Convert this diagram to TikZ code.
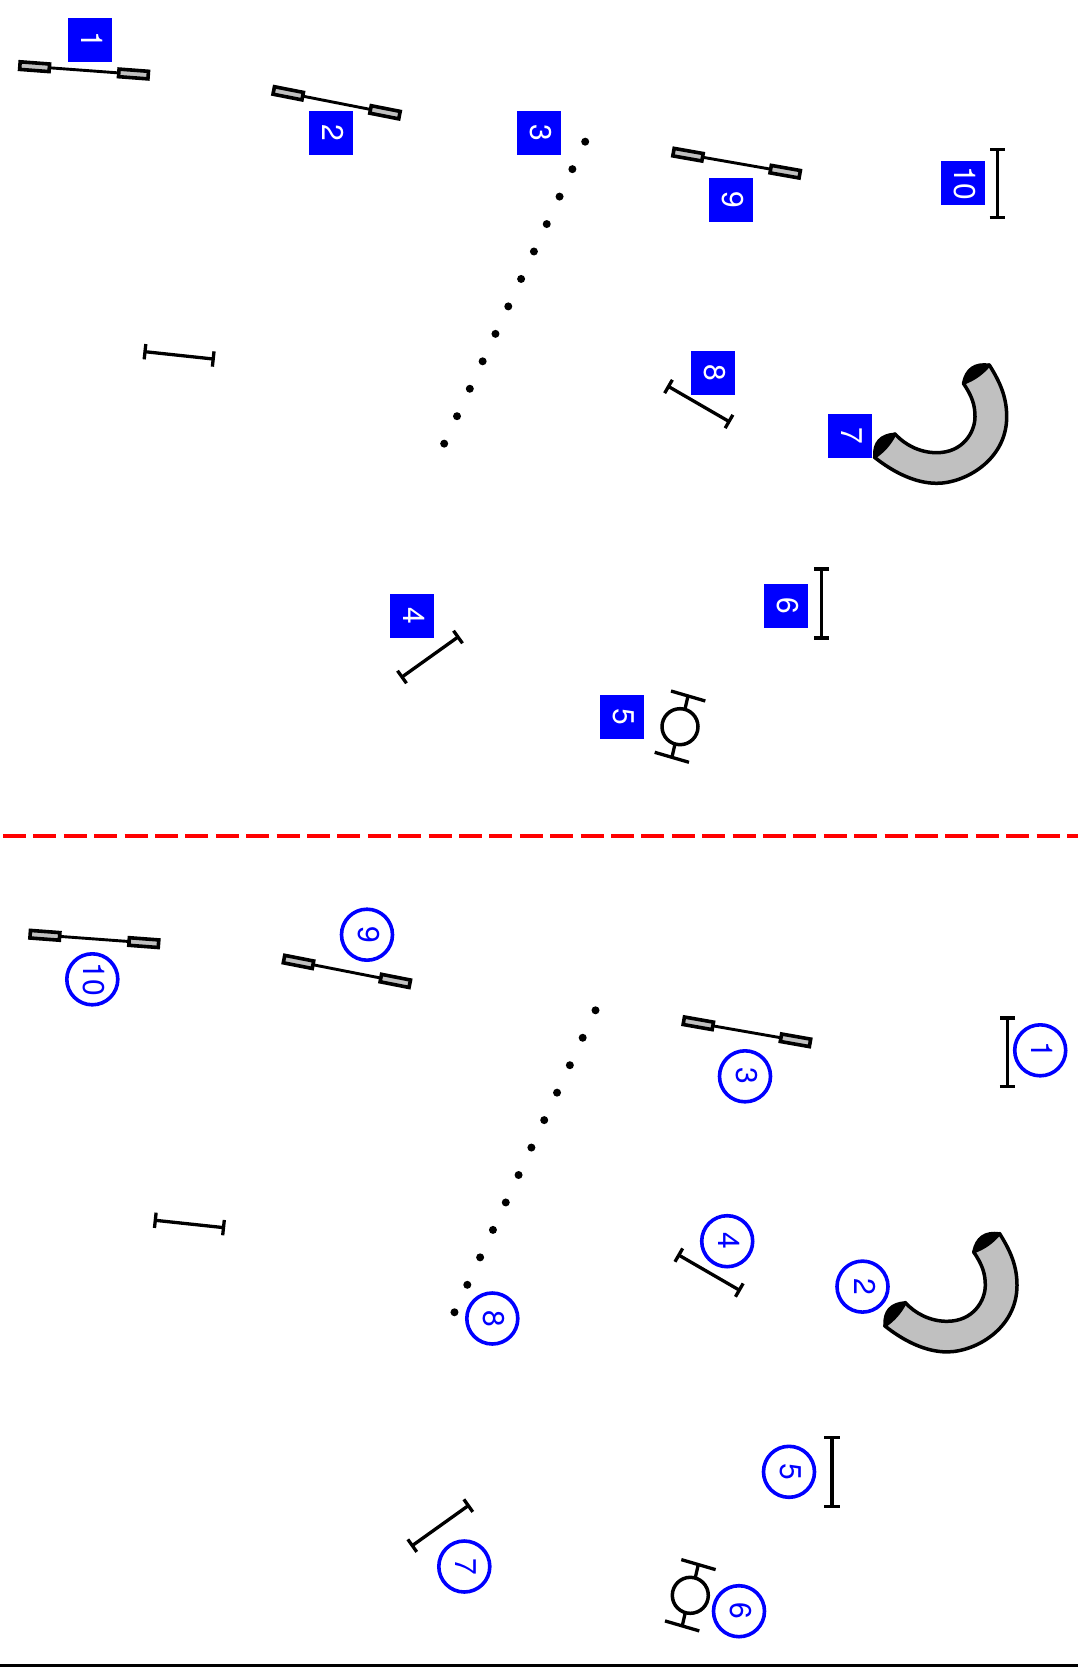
\documentclass[tikz,border=0pt]{standalone}
\usepackage{fontspec}
\setmainfont{TeX Gyre Heros}
\newfontfamily\labelfont{TeX Gyre Heros}
\usetikzlibrary{calc}
\definecolor{obgray}{HTML}{C0C0C0}
\tikzset{
  obst/.style={draw=black,line width=3.3pt},
  wing/.style={draw=black,fill=obgray,line width=3.6pt,minimum width=29.5pt,minimum height=7.6pt,inner sep=0pt,outer sep=0pt},
  pole/.style={fill=black,circle,inner sep=0pt,minimum size=8pt},
  sqlabel/.style={fill=blue,text=white,minimum width=44pt,minimum height=44pt,inner sep=0pt,rotate=-90,text height=17pt,text depth=0pt,font=\labelfont\fontsize{30}{30}\selectfont},
  cirlabel/.style={draw=blue,text=blue,circle,line width=3.6pt,minimum size=51pt,inner sep=0pt,rotate=-90,text height=17pt,text depth=0pt,font=\labelfont\fontsize{30}{30}\selectfont},
  tunnelbody/.style={draw=black,fill=obgray,line width=3.5pt,line join=round},
  tunnelmouth/.style={draw=black,fill=black,line width=3pt,line join=round},
}
\newcommand{\hurdle}[2]{%
  \draw[obst] (#1) -- (#2);
  \draw[obst] ($(#1)!7.7pt!90:(#2)$) -- ($(#1)!7.7pt!-90:(#2)$);
  \draw[obst] ($(#2)!7.7pt!90:(#1)$) -- ($(#2)!7.7pt!-90:(#1)$);
}
\newcommand{\wingjump}[4]{%
  \draw[obst,line width=2.9pt] (#2) -- (#3);
  \node[wing,rotate=#4] (#1a) at (#2) {};
  \node[wing,rotate=#4] (#1b) at (#3) {};
}
\newcommand{\course}[1]{%
  \wingjump{#1j1}{34.6,66.7}{133.5,74}{-4.3}
  \wingjump{#1j2}{288.2,93.3}{385,112.3}{-11.1}
  \wingjump{#1j9}{688,154.7}{785.2,171.7}{-10}
  \hurdle{145,351.7}{213.2,359}
  \hurdle{402,677}{458,637}
  \hurdle{821.7,569}{821.7,638}
  \hurdle{668.5,386.5}{729,421.5}
  \hurdle{997.2,149.3}{997.2,217.7}
  \foreach \k in {0,...,11}
    \node[pole] (#1p\k) at ({585.2-12.82*\k},{141.7+27.45*\k}) {};
  % tyre
  \draw[obst,line width=3.5pt] (680,726.7) circle[radius=18pt];
  \draw[obst] (671,691) -- (705.3,701);
  \draw[obst] (654.7,752.3) -- (689,762.3);
  \draw[obst] (688,696) -- (685,709);
  \draw[obst] (672,757) -- (675,744);
  % tunnel
  \draw[tunnelbody] (874.5,457.3) .. controls (893,472) and (915,483.3) .. (936.7,483.3)
     .. controls (965,483.3) and (1006.7,460) .. (1006.7,416.7)
     .. controls (1006.7,397) and (1000,382) .. (989.3,365)
     -- (963.3,383.3)
     .. controls (972,396) and (975,405) .. (975,416.7)
     .. controls (975,432) and (963,452.7) .. (936.7,452.7)
     .. controls (920,452.7) and (905,445) .. (895,434) -- cycle;
  \draw[tunnelmouth] (874.5,457.3) .. controls (873.5,442.8) and (880.5,435) .. (895,434)
     .. controls (890.2,443.7) and (883.2,451.6) .. (874.5,457.3) -- cycle;
  \draw[tunnelmouth] (963.3,383.3) .. controls (966.2,369) and (974.8,363) .. (989.3,365)
     .. controls (982.3,373.5) and (973.7,379.6) .. (963.3,383.3) -- cycle;
}
\begin{document}
\begin{tikzpicture}[x=1pt,y=-1pt]
\useasboundingbox (0,0) rectangle (1078,1669);
\course{t}
\begin{scope}[shift={(10.3,868.6)}]
\course{b}
\end{scope}
% top labels
\node[sqlabel] (s1) at (90.2,40) {1};
\node[sqlabel] (s2) at (331,133) {2};
\node[sqlabel] (s3) at (538.8,133) {3};
\node[sqlabel] (s4) at (412.3,615.5) {4};
\node[sqlabel] (s5) at (621.5,717) {5};
\node[sqlabel] (s6) at (785.8,605.5) {6};
\node[sqlabel] (s7) at (850,436) {7};
\node[sqlabel] (s8) at (712.8,373) {8};
\node[sqlabel] (s9) at (730.8,199.7) {9};
\node[sqlabel] (s10) at (963,183.3) {10};
% bottom labels
\node[cirlabel] (c1) at (1040.2,1050.3) {1};
\node[cirlabel] (c2) at (862.5,1286.6) {2};
\node[cirlabel] (c3) at (745,1076.3) {3};
\node[cirlabel] (c4) at (727.2,1241.2) {4};
\node[cirlabel] (c5) at (789,1471.8) {5};
\node[cirlabel] (c6) at (739,1611.2) {6};
\node[cirlabel] (c7) at (464.3,1566.5) {7};
\node[cirlabel] (c8) at (492.3,1318.5) {8};
\node[cirlabel] (c9) at (367,934.7) {9};
\node[cirlabel] (c10) at (92.3,979.3) {10};
% divider
\coordinate (dl) at (3,836);
\coordinate (dr) at (1078,836);
\draw[red,line width=3.6pt,dash pattern=on 23pt off 7.4pt] (dl) -- (dr);
% ground
\coordinate (gl) at (0,1665.5);
\coordinate (gr) at (1078,1665.5);
\draw[black,line width=2.6pt] (gl) -- (gr);
\end{tikzpicture}
\end{document}
